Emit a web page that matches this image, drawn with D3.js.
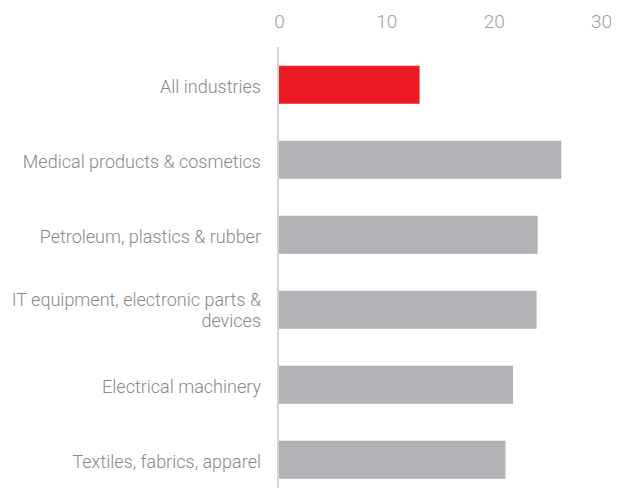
<!DOCTYPE html>
<html><head><meta charset="utf-8">
<script src="https://cdn.jsdelivr.net/npm/d3@7"></script>
<style>body{margin:0;background:#fff}svg{display:block}text{font-family:Roboto,"Helvetica Neue",Arial,sans-serif;font-weight:300}</style>
</head><body><svg id="c" width="627" height="488"></svg>
<script>
const categories = ["All industries","Medical products & cosmetics","Petroleum, plastics & rubber","IT equipment, electronic parts & devices","Electrical machinery","Textiles, fabrics, apparel"];
const labelLines = [["All industries"],["Medical products & cosmetics"],["Petroleum, plastics & rubber"],["IT equipment, electronic parts &","devices"],["Electrical machinery"],["Textiles, fabrics, apparel"]];
const values = [13.1, 26.3, 24.1, 24.0, 21.8, 21.1];
const colors = ["#ed1c24","#b2b3b6","#b2b3b6","#b2b3b6","#b2b3b6","#b2b3b6"];
const tickValues = [0,10,20,30];

const svg = d3.select("#c");
const x = d3.scaleLinear().domain([0,30]).range([279,601]);
const y = d3.scaleBand().domain(categories).range([47,497.5]).paddingInner(0.493).paddingOuter(0.25);

// bars
svg.selectAll("rect.bar").data(values).join("rect")
  .attr("class","bar")
  .attr("x", x(0))
  .attr("y", (d,i)=>y(categories[i]))
  .attr("width", d=>x(d)-x(0))
  .attr("height", y.bandwidth())
  .attr("fill", (d,i)=>colors[i]);

// axis line
svg.append("line").attr("x1",278).attr("x2",278).attr("y1",47).attr("y2",488)
  .attr("stroke","#d4d4d4").attr("stroke-width",2);

// top ticks
const xAxis = d3.axisTop(x).tickValues(tickValues).tickSize(0).tickPadding(0);
const gx = svg.append("g").attr("transform","translate(0,28)").call(xAxis);
gx.select(".domain").remove();
gx.selectAll("text").attr("font-size",19).attr("fill","#a0a0a0")
  .style("font-family","Roboto,sans-serif").style("font-weight",300);

// category labels
const gl = svg.append("g");
categories.forEach((c,i)=>{
  const lines = labelLines[i];
  const cy = y(c) + y.bandwidth()/2;
  const lh = 20.5;
  const t = gl.append("text").attr("x",261).attr("text-anchor","end")
    .attr("font-size",18).attr("fill","#888888");
  lines.forEach((l,j)=>{
    t.append("tspan").attr("x",261)
      .attr("y", cy + 8.2 + (j-(lines.length-1)/2)*lh - (lines.length-1)*1.2)
      .text(l);
  });
});
</script></body></html>
